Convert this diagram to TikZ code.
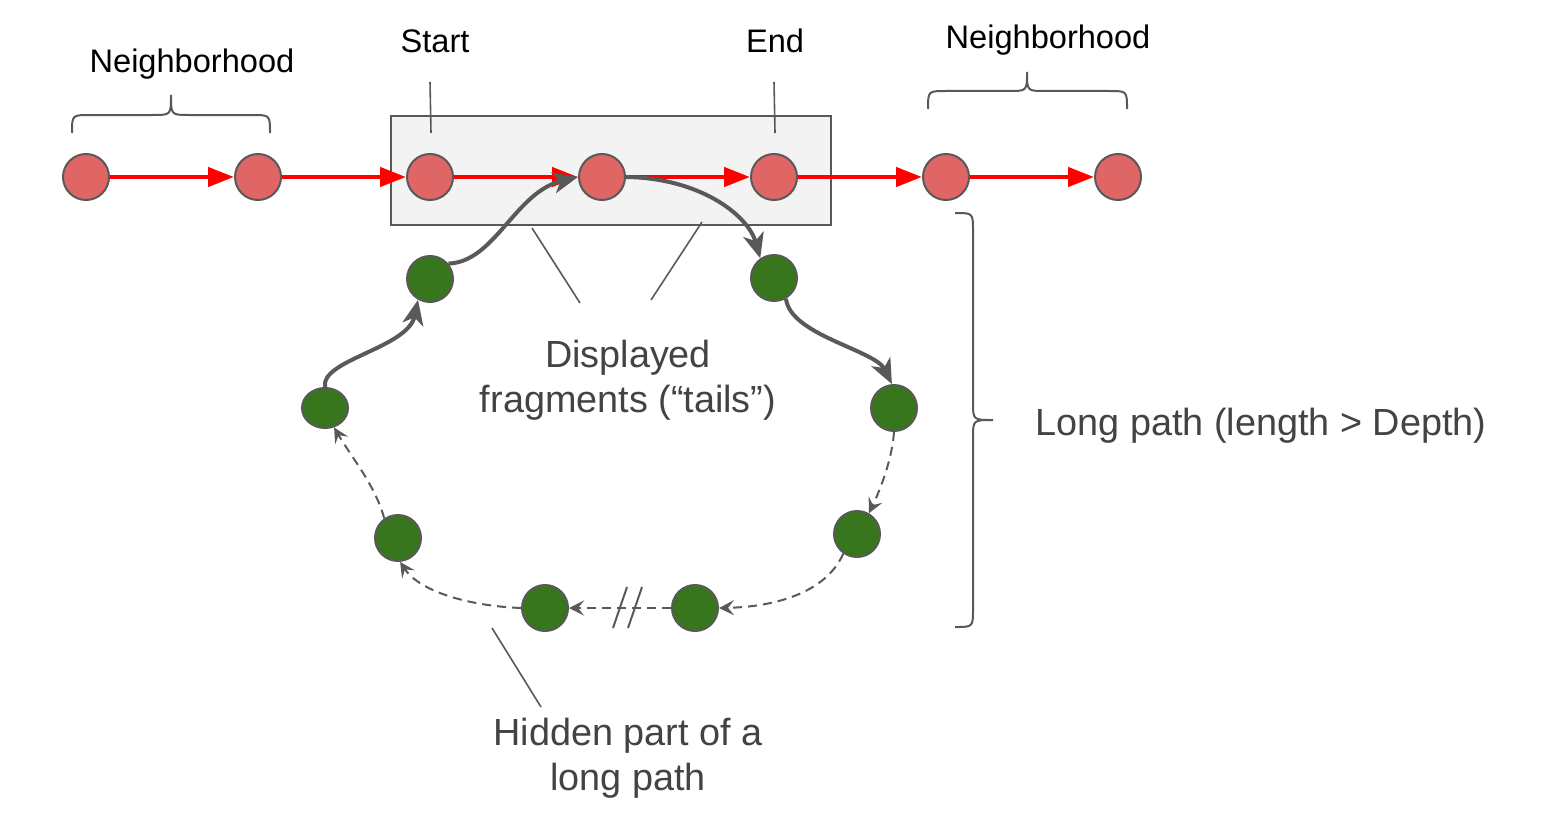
\documentclass[tikz,border=0pt]{standalone}
\usepackage{fontspec}
\setmainfont{Liberation Sans}
\usetikzlibrary{arrows.meta,shapes.geometric}
\definecolor{redfill}{HTML}{E06666}
\definecolor{greenfill}{HTML}{38761D}
\definecolor{edgegray}{HTML}{595959}
\definecolor{txtgray}{HTML}{434343}
\definecolor{boxfill}{HTML}{F3F3F3}
\begin{document}
\begin{tikzpicture}[x=0.5pt,y=-0.5pt,
  rnode/.style={circle,fill=redfill,draw=edgegray,line width=1pt,minimum size=23pt,inner sep=0pt},
  gnode/.style={circle,fill=greenfill,draw=edgegray,line width=1pt,minimum size=23pt,inner sep=0pt},
  redarrow/.style={draw=red,line width=2.2pt,-{Triangle[length=13pt,width=9.5pt]}},
  tailarrow/.style={draw=edgegray,line width=2pt,-{Stealth[length=12.5pt,width=10.5pt,inset=3.5pt]}},
  hidarrow/.style={draw=edgegray,line width=1pt,dash pattern=on 4.5pt off 3pt,-{Stealth[length=7.5pt,width=7.5pt,inset=3pt]}},
  pointer/.style={draw=edgegray,line width=0.8pt},
  bracestyle/.style={draw=edgegray,line width=1pt},
  smalltxt/.style={font=\fontsize{16.3pt}{20pt}\selectfont,text=black,inner sep=0pt},
  bigtxt/.style={font=\fontsize{18.9pt}{22.5pt}\selectfont,text=txtgray,inner sep=0pt,align=center}
]
\useasboundingbox (0,0) rectangle (1550,829);
% box
\draw[fill=boxfill,draw=edgegray,line width=1pt] (391,116) rectangle (831,225);
% red nodes
\node[rnode] (r1) at (86,177) {};
\node[rnode] (r2) at (258,177) {};
\node[rnode] (r3) at (430,177) {};
\node[rnode] (r4) at (602,177) {};
\node[rnode] (r5) at (774,177) {};
\node[rnode] (r6) at (946,177) {};
\node[rnode] (r7) at (1118,177) {};
% green nodes
\node[gnode] (g1) at (430,279) {};
\node[gnode] (g2) at (774,278) {};
\node[gnode] (g3) at (894,408) {};
\node[gnode] (g5) at (857,534) {};
\node[gnode] (g6) at (695,608) {};
\node[gnode] (g7) at (545,608) {};
\node[gnode] (g8) at (398,538) {};
\node[ellipse,fill=greenfill,draw=edgegray,line width=1pt,minimum width=23pt,minimum height=20pt,inner sep=0pt] (g4) at (325,408) {};
% red arrows
\draw[redarrow] (r1) -- (r2);
\draw[redarrow] (r2) -- (r3);
\draw[redarrow] (r3) -- (r4);
\draw[redarrow] (r4) -- (r5);
\draw[redarrow] (r5) -- (r6);
\draw[redarrow] (r6) -- (r7);
% displayed tails
\draw[tailarrow] (g1.40) .. controls (495,262) and (515,192) .. (r4.west);
\draw[tailarrow] (r4.east) .. controls (700,178) and (748,215) .. (g2.125);
\draw[tailarrow] (g2.-60) .. controls (790,335) and (875,350) .. (g3.95);
\draw[tailarrow] (g4.north) .. controls (320,360) and (408,348) .. (g1.240);
% hidden part
\draw[hidarrow] (g3.south) .. controls (892,460) and (880,490) .. (g5.60);
\draw[hidarrow] (g5.235) .. controls (825,595) and (770,607) .. (g6.east);
\draw[hidarrow] (g6.west) -- (g7.east);
\draw[hidarrow] (g7.west) .. controls (470,606) and (420,592) .. (g8.-85);
\draw[hidarrow] (g8.125) .. controls (375,485) and (352,458) .. (g4.-65);
% break mark
\draw[edgegray,line width=1pt] (613,628) -- (627,587);
\draw[edgegray,line width=1pt] (628,628) -- (642,587);
% braces
\draw[bracestyle] (72,133) .. controls (72,115) .. (90,115) -- (153,115) .. controls (171,115) .. (171,95) .. controls (171,115) .. (189,115) -- (252,115) .. controls (270,115) .. (270,133);
\draw[bracestyle] (928,109) .. controls (928,91) .. (946,91) -- (1009,91) .. controls (1027,91) .. (1027,72) .. controls (1027,91) .. (1045,91) -- (1109,91) .. controls (1127,91) .. (1127,109);
\draw[bracestyle] (955,213) .. controls (973,213) .. (973,231) -- (973,402) .. controls (973,420) .. (993,420) .. controls (973,420) .. (973,438) -- (973,609) .. controls (973,627) .. (955,627);
% texts
\node[smalltxt] (nl) at (192,64) {Neighborhood};
\node[smalltxt] (nr) at (1048,40) {Neighborhood};
\node[smalltxt] (ts) at (435,41) {Start};
\node[smalltxt] (te) at (775,41) {End};
\node[bigtxt] (tl) at (1261,426) {Long path (length > Depth)};
\node[bigtxt] (td) at (628,380) {Displayed\\fragments (“tails”)};
\node[bigtxt] (th) at (628,758) {Hidden part of a\\long path};
% pointers
\draw[pointer] (430,82) -- (431,133);
\draw[pointer] (774,82) -- (775,133);
\draw[pointer] (532,228) -- (580,303);
\draw[pointer] (702,222) -- (651,300);
\draw[pointer] (492,628) -- (541,707);
\end{tikzpicture}
\end{document}
